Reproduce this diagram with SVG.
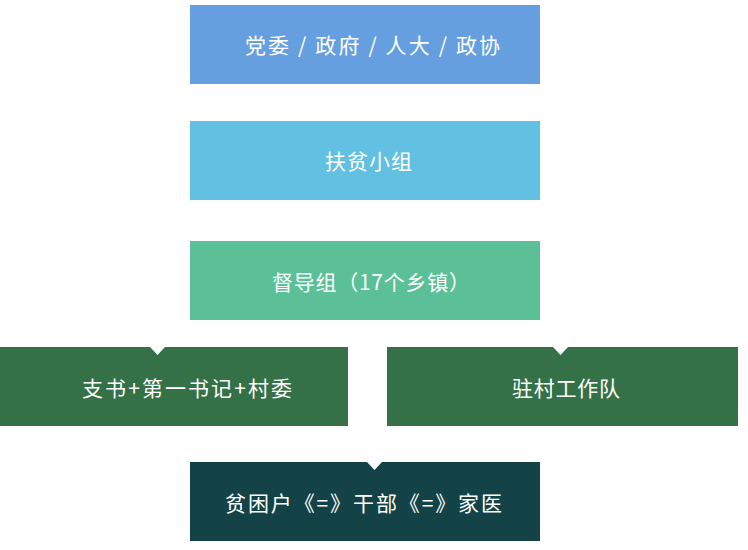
<svg xmlns="http://www.w3.org/2000/svg" width="748" height="550" viewBox="0 0 748 550">
<style>
text{font-family:"Noto Sans CJK SC","Liberation Sans",sans-serif;font-size:21px;fill:#ffffff;text-anchor:middle;dominant-baseline:central}
.notch{fill:#ffffff}
</style>
<rect width="748" height="550" fill="#ffffff"/>
<g id="n1"><rect x="190" y="5" width="350" height="79" fill="#659fe0"/><text x="372.5" y="44" textLength="255" lengthAdjust="spacing">党委 / 政府 / 人大 / 政协</text></g>
<g id="n2"><rect x="190" y="121" width="350" height="79" fill="#62c0e2"/><text x="368.5" y="160" textLength="87" lengthAdjust="spacing">扶贫小组</text></g>
<g id="n3"><rect x="190" y="241" width="350" height="79" fill="#5bbf97"/><text x="371" y="281" textLength="198" lengthAdjust="spacing">督导组（17个乡镇）</text></g>
<g id="n4"><rect x="0" y="347" width="348" height="79" fill="#357146"/><polygon class="notch" points="150,347 165,347 157.5,355"/><text x="187" y="387" textLength="210" lengthAdjust="spacing">支书+第一书记+村委</text></g>
<g id="n5"><rect x="387" y="347" width="351" height="79" fill="#357146"/><polygon class="notch" points="553,347 568,347 560.5,355"/><text x="566" y="387" textLength="108" lengthAdjust="spacing">驻村工作队</text></g>
<g id="n6"><rect x="190" y="462" width="350" height="79" fill="#134346"/><polygon class="notch" points="367,462 382,462 374.5,470"/><text x="363.5" y="502" textLength="277" lengthAdjust="spacing">贫困户《=》干部《=》家医</text></g>
<g id="connectors"></g>
</svg>
